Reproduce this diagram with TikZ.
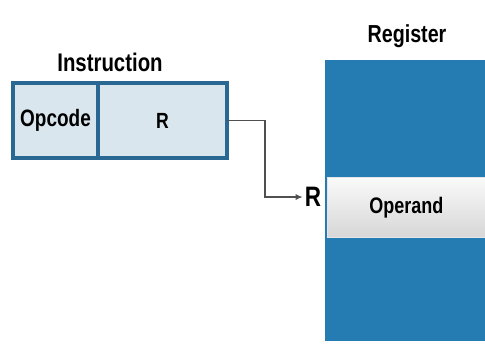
\documentclass[tikz,border=0pt]{standalone}
\usepackage{fontspec}
\setmainfont{Liberation Sans}[FakeStretch=0.8]
\usetikzlibrary{positioning,arrows.meta}

\definecolor{regblue}{RGB}{36,124,178}
\definecolor{boxblue}{RGB}{42,104,148}
\definecolor{fieldfill}{RGB}{218,230,238}
\definecolor{wiregray}{RGB}{80,80,80}

\begin{document}
\begin{tikzpicture}[x=0.02cm, y=-0.02cm,
    field/.style={draw=boxblue, line width=2.2pt, fill=fieldfill, minimum height=1.5cm, inner sep=0pt, outer sep=0pt},
    title/.style={font=\fontsize{14.5}{16}\selectfont\bfseries}]
    \useasboundingbox (0,0) rectangle (485,343);

    % Register column
    \node[draw=none, fill=regblue, minimum width=3.2cm, minimum height=5.62cm, inner sep=0pt, anchor=north west] (regfile) at (325,60) {};
    \node[top color=gray!4, bottom color=gray!32, draw=white!80!gray, line width=0.4pt, minimum width=3.16cm, minimum height=1.2cm, inner sep=0pt, anchor=north west, font=\fontsize{12.8}{14}\selectfont\bfseries] (operand) at (327,177) {Operand};
    \node[title, font=\fontsize{14}{16}\selectfont\bfseries] (regtitle) at (407,36) {Register};

    % Instruction
    \node[field, minimum width=1.7cm, font=\fontsize{13.5}{15}\selectfont\bfseries] (opcode) at (55.5,120.5) {Opcode};
    \node[field, minimum width=2.58cm, right=0pt of opcode, font=\fontsize{12.5}{14}\selectfont\bfseries] (reg) {R};
    \node[title] (insttitle) at (110,62) {Instruction};

    % Pointer
    \node[inner sep=1pt, font=\fontsize{16}{18}\selectfont\bfseries] (rlab) at (313,197) {R};
    \draw[wiregray, line width=0.8pt, -{Latex[length=4pt,width=3.5pt]}] (reg.east) -- ++(38,0) |- (rlab.west);
\end{tikzpicture}
\end{document}
